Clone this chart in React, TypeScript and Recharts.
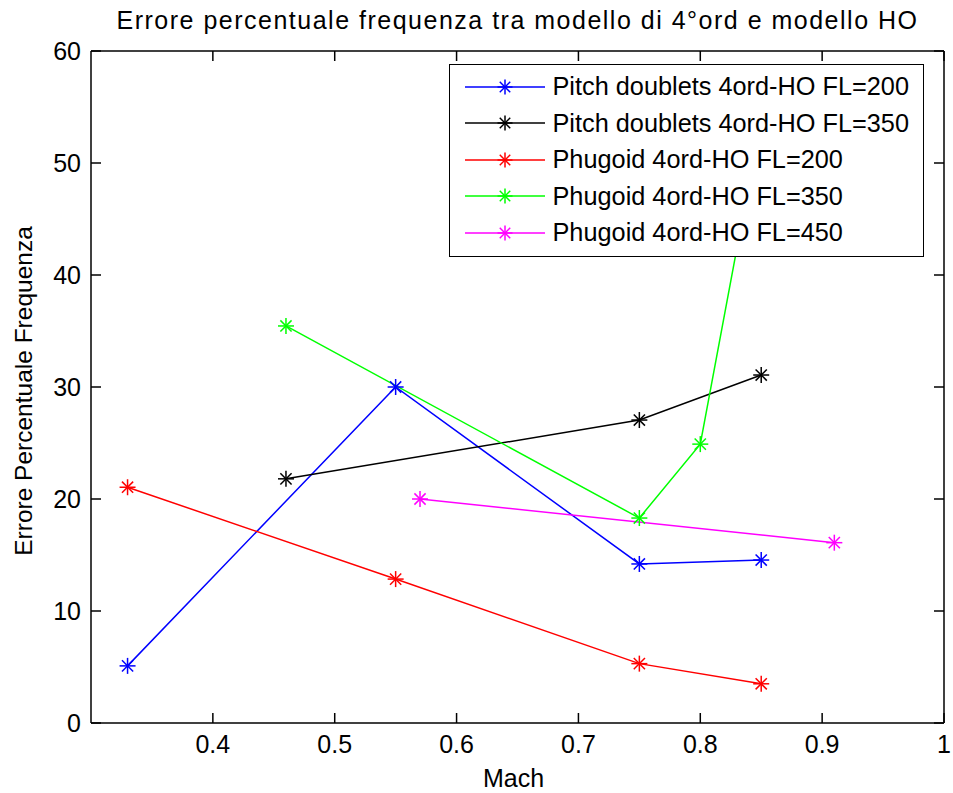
import { LineChart, Line, XAxis, YAxis, Legend } from "recharts";

// Mach ticks / error ticks
const MACH_TICKS = [0.4, 0.5, 0.6, 0.7, 0.8, 0.9, 1];
const ERR_TICKS = [0, 10, 20, 30, 40, 50, 60];

// values
const pitch200Mach = [0.33, 0.55, 0.75, 0.85];
const pitch200Err = [5.1, 30, 14.2, 14.55];
const pitch350Mach = [0.46, 0.75, 0.85];
const pitch350Err = [21.8, 27.05, 31.07];
const phug200Mach = [0.33, 0.55, 0.75, 0.85];
const phug200Err = [21.05, 12.85, 5.3, 3.5];
const phug350Mach = [0.46, 0.75, 0.8, 0.85];
const phug350Err = [35.45, 18.3, 24.9, 54];
const phug450Mach = [0.57, 0.91];
const phug450Err = [20, 16.1];

const toPoints = (mach: number[], err: number[]) =>
  mach.map((m, i) => ({ mach: m, err: err[i] }));

const SERIES = [
  { name: "Pitch doublets 4ord-HO FL=200", color: "#0000ff", data: toPoints(pitch200Mach, pitch200Err) },
  { name: "Pitch doublets 4ord-HO FL=350", color: "#000000", data: toPoints(pitch350Mach, pitch350Err) },
  { name: "Phugoid 4ord-HO FL=200", color: "#ff0000", data: toPoints(phug200Mach, phug200Err) },
  { name: "Phugoid 4ord-HO FL=350", color: "#00ff00", data: toPoints(phug350Mach, phug350Err) },
  { name: "Phugoid 4ord-HO FL=450", color: "#ff00ff", data: toPoints(phug450Mach, phug450Err) },
];

const FONT = '"Liberation Sans", Arial, sans-serif';
const TICK_LEN = 10;
const TICK_GAP = 10;

function Star({ cx, cy, color, r = 8 }: { cx: number; cy: number; color: string; r?: number }) {
  const d = r * 0.7;
  return (
    <g stroke={color} strokeWidth={1.5}>
      <line x1={cx - r} y1={cy} x2={cx + r} y2={cy} />
      <line x1={cx} y1={cy - r} x2={cx} y2={cy + r} />
      <line x1={cx - d} y1={cy - d} x2={cx + d} y2={cy + d} />
      <line x1={cx - d} y1={cy + d} x2={cx + d} y2={cy - d} />
    </g>
  );
}

// inward tick marks, MATLAB style
const BottomTick = ({ x, y, payload }: any) => (
  <g>
    <line x1={x} x2={x} y1={y - TICK_GAP} y2={y - TICK_GAP - TICK_LEN} stroke="#000" strokeWidth={1.5} />
    <text x={x} y={y + 20} textAnchor="middle" fontFamily={FONT} fontSize={25} fill="#000">
      {payload.value}
    </text>
  </g>
);

const LeftTick = ({ x, y, payload }: any) => (
  <g>
    <line x1={x + TICK_GAP} x2={x + TICK_GAP + TICK_LEN} y1={y} y2={y} stroke="#000" strokeWidth={1.5} />
    <text x={x} y={y + 9} textAnchor="end" fontFamily={FONT} fontSize={25} fill="#000">
      {payload.value}
    </text>
  </g>
);

const TopTick = ({ x, y }: any) => (
  <line x1={x} x2={x} y1={y} y2={y + TICK_LEN} stroke="#000" strokeWidth={1.5} />
);

const RightTick = ({ x, y }: any) => (
  <line x1={x} x2={x - TICK_LEN} y1={y} y2={y} stroke="#000" strokeWidth={1.5} />
);

function LegendBox() {
  return (
    <div
      style={{
        width: 475,
        height: 193,
        boxSizing: "border-box",
        border: "1.5px solid #000",
        background: "#fff",
        paddingTop: 3.25,
      }}
    >
      {SERIES.map((s) => (
        <div
          key={s.name}
          style={{ display: "flex", alignItems: "center", height: 36.5 }}
        >
          <svg width={80} height={20} style={{ marginLeft: 14.5 }}>
            <line x1={0} y1={10} x2={80} y2={10} stroke={s.color} strokeWidth={1.5} />
            <Star cx={40} cy={10} color={s.color} r={7.5} />
          </svg>
          <span
            style={{
              marginLeft: 8,
              fontFamily: FONT,
              fontSize: 25.3,
              color: "#000",
              lineHeight: "36.5px",
              whiteSpace: "nowrap",
            }}
          >
            {s.name}
          </span>
        </div>
      ))}
    </div>
  );
}

const axisStroke = { stroke: "#000", strokeWidth: 1.5 };

export default function App() {
  return (
    <div
      style={{
        position: "absolute",
        left: 0,
        top: 0,
        width: 953,
        height: 793,
        background: "#fff",
      }}
    >
      <div
        style={{
          position: "absolute",
          left: 91,
          top: 8,
          width: 853,
          textAlign: "center",
          fontFamily: FONT,
          fontSize: 25,
          lineHeight: "25px",
          letterSpacing: 1.5,
          color: "#000",
          whiteSpace: "nowrap",
        }}
      >
        Errore percentuale frequenza tra modello di 4°ord e modello HO
      </div>
      <LineChart
        width={953}
        height={793}
        margin={{ top: 50, right: 8, bottom: 0, left: 0 }}
      >
        <XAxis
          dataKey="mach"
          type="number"
          domain={[0.3, 1]}
          ticks={MACH_TICKS}
          interval={0}
          allowDataOverflow
          height={70}
          tickSize={0}
          tickMargin={TICK_GAP}
          axisLine={axisStroke}
          tickLine={false}
          tick={<BottomTick />}
          label={{
            content: ({ viewBox }: any) => (
              <text
                x={viewBox.x + viewBox.width / 2 - 4}
                y={viewBox.y + 64}
                textAnchor="middle"
                fontFamily={FONT}
                fontSize={25}
                fill="#000"
              >
                Mach
              </text>
            ),
          }}
        />
        <XAxis
          xAxisId="top"
          orientation="top"
          dataKey="mach"
          type="number"
          domain={[0.3, 1]}
          ticks={MACH_TICKS}
          interval={0}
          allowDataOverflow
          height={1}
          tickSize={0}
          tickMargin={0}
          axisLine={axisStroke}
          tickLine={false}
          tick={<TopTick />}
        />
        <YAxis
          type="number"
          domain={[0, 60]}
          ticks={ERR_TICKS}
          interval={0}
          allowDataOverflow
          width={91}
          tickSize={0}
          tickMargin={TICK_GAP}
          axisLine={axisStroke}
          tickLine={false}
          tick={<LeftTick />}
          label={{
            content: ({ viewBox }: any) => {
              const x = viewBox.x + 32;
              const y = viewBox.y + viewBox.height / 2 + 4;
              return (
                <text
                  x={x}
                  y={y}
                  transform={`rotate(-90 ${x} ${y})`}
                  textAnchor="middle"
                  fontFamily={FONT}
                  fontSize={24.5}
                  fill="#000"
                >
                  Errore Percentuale Frequenza
                </text>
              );
            },
          }}
        />
        <YAxis
          yAxisId="right"
          orientation="right"
          type="number"
          domain={[0, 60]}
          ticks={ERR_TICKS}
          interval={0}
          allowDataOverflow
          width={1}
          tickSize={0}
          tickMargin={0}
          axisLine={axisStroke}
          tickLine={false}
          tick={<RightTick />}
        />
        {SERIES.map((s) => (
          <Line
            key={s.name}
            data={s.data}
            dataKey="err"
            name={s.name}
            stroke={s.color}
            strokeWidth={1.5}
            isAnimationActive={false}
            dot={(p: any) => (
              <Star key={`${s.name}-${p.index}`} cx={p.cx} cy={p.cy} color={s.color} />
            )}
            activeDot={false}
          />
        ))}
        <Legend
          layout="vertical"
          align="center"
          verticalAlign="middle"
          wrapperStyle={{ left: 449, top: 64, width: 475, height: 193 }}
          content={() => <LegendBox />}
        />
      </LineChart>
    </div>
  );
}
